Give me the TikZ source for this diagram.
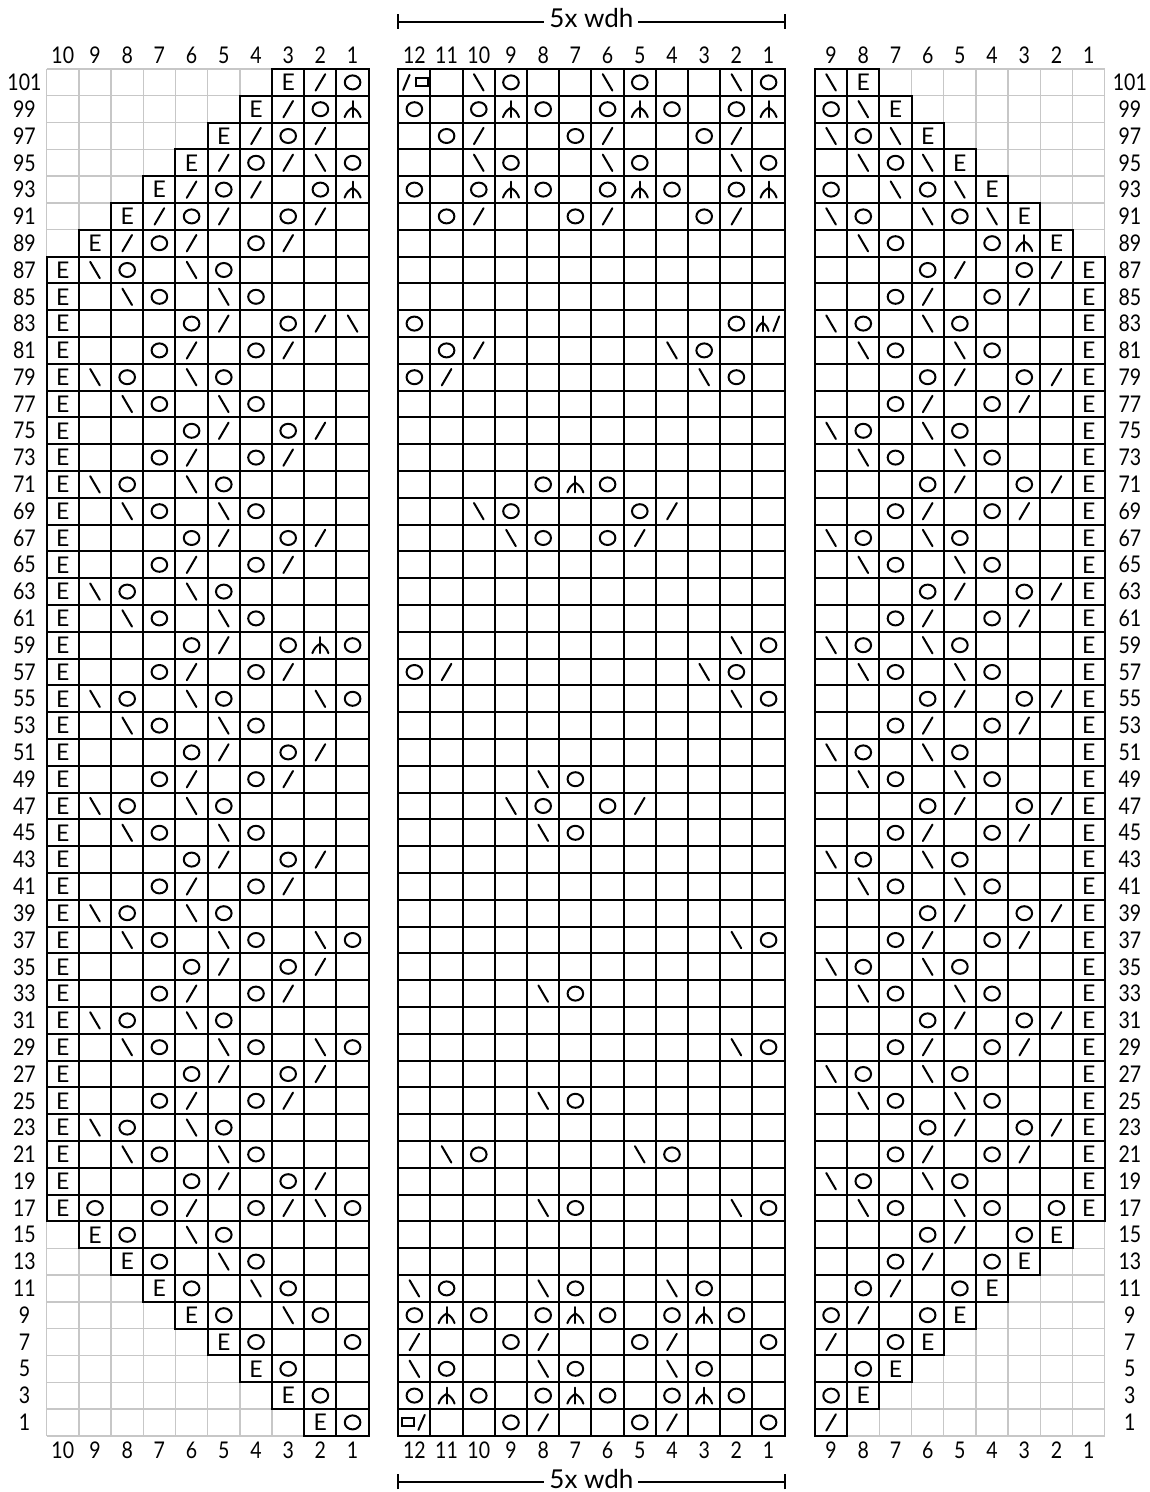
\documentclass[tikz,border=0pt]{standalone}
\usepackage{fontspec}
\setmainfont{Lato}
\newfontfamily\numfont[FakeStretch=0.85]{Lato}

\tikzset{
  gridgray/.style={draw=black!22, line width=0.7pt},
  gridblack/.style={draw=black, line width=1pt, line cap=rect},
  sym/.style={line width=1pt, line cap=round},
  stE/.style={font=\fontsize{11.5}{12}\selectfont, inner sep=0pt},
  numlab/.style={font=\numfont\fontsize{11.5}{12}\selectfont, inner sep=0pt},
  bracket/.style={line width=1pt},
  wdh/.style={font=\fontsize{13}{14}\selectfont, anchor=base, fill=white, inner xsep=2.5pt, inner ysep=1pt},
  % 针法符号
  yo/.pic={\draw[sym] (0,0) ellipse [x radius=3.9pt, y radius=3.5pt];},
  ktog/.pic={\draw[sym] (-2.4pt,-4.1pt) -- (2.4pt,4.1pt);},
  ssk/.pic={\draw[sym] (-2.4pt,4.1pt) -- (2.4pt,-4.1pt);},
  cdd/.pic={\draw[sym] (0,-4pt) -- (0,4pt);
    \draw[sym] (-4pt,-4pt) to[bend left=20] (0,0.8pt) to[bend left=20] (4pt,-4pt);},
  ktogsq/.pic={\draw[sym] (-5.6pt,-3.8pt) -- (-2.4pt,3.8pt);
    \draw[sym] (0.7pt,-2pt) rectangle (6.8pt,2pt);},
  sqktog/.pic={\draw[sym] (-6pt,-2pt) rectangle (0pt,2pt);
    \draw[sym] (2pt,-3.8pt) -- (5.2pt,3.8pt);},
  cddktog/.pic={\draw[sym] (-3pt,-3.8pt) -- (-3pt,3.6pt);
    \draw[sym] (-6pt,-3.8pt) to[bend left=20] (-3pt,0.5pt) to[bend left=20] (0pt,-3.8pt);
    \draw[sym] (2.4pt,-3.8pt) -- (5.3pt,3.6pt);},
}

\begin{document}
\begin{tikzpicture}[x=16.1pt, y=13.4pt]
  % 画布
  \useasboundingbox (-1.450,-2.097) rectangle (34.264,53.575);

  % 左片 灰格与黑框
  \foreach \i in {0,...,10} \draw[gridgray] (\i,0) -- (\i,51);
  \foreach \j in {0,...,51} \draw[gridgray] (0,\j) -- (10,\j);
  \foreach \r in {1,3,...,101} {
    \pgfmathtruncatemacro\w{min(10,(\r+3)/2,(107-\r)/2)}
    \foreach \c in {1,...,\w} \draw[gridblack] ({10-\c},{(\r-1)/2}) rectangle ++(1,1);
    \node[stE] (LE-\r) at ({10.5-\w},{\r/2}) {E};
  }

  % 中片 (5x wdh)
  \foreach \i in {0,...,12} \draw[gridblack] ({10.919+\i},0) -- ++(0,51);
  \foreach \j in {0,...,51} \draw[gridblack] (10.919,\j) -- ++(12,0);

  % 右片 灰格与黑框
  \foreach \i in {0,...,9} \draw[gridgray] ({23.86+\i},0) -- ++(0,51);
  \foreach \j in {0,...,51} \draw[gridgray] (23.86,\j) -- ++(9,0);
  \foreach \r in {1,3,...,101} {
    \pgfmathtruncatemacro\m{max(1,(19-\r)/2,(\r-85)/2)}
    \foreach \c in {\m,...,9} \draw[gridblack] ({32.86-\c},{(\r-1)/2}) rectangle ++(1,1);
  }
  \foreach \r in {3,5,...,101} {
    \pgfmathtruncatemacro\m{max(1,(19-\r)/2,(\r-85)/2)}
    \node[stE] (RE-\r) at ({33.36-\m},{\r/2}) {E};
  }

  % 左片 符号
  \foreach \s/\c/\r in {ktog/2/101, yo/1/101, ktog/3/99, yo/2/99, cdd/1/99,
      ktog/4/97, yo/3/97, ktog/2/97, ktog/5/95, yo/4/95, ktog/3/95, ssk/2/95, yo/1/95,
      ktog/6/93, yo/5/93, ktog/4/93, yo/2/93, cdd/1/93,
      ktog/7/91, yo/6/91, ktog/5/91, yo/3/91, ktog/2/91,
      ktog/8/89, yo/7/89, ktog/6/89, yo/4/89, ktog/3/89,
      ssk/1/83, cdd/2/59, yo/1/59, ssk/2/55, yo/1/55, ssk/2/37, yo/1/37, ssk/2/29, yo/1/29,
      yo/9/17, yo/7/17, ktog/6/17, yo/4/17, ktog/3/17, ssk/2/17, yo/1/17,
      yo/8/15, ssk/6/15, yo/5/15, yo/7/13, ssk/5/13, yo/4/13,
      yo/6/11, ssk/4/11, yo/3/11, yo/5/9, ssk/3/9, yo/2/9,
      yo/4/7, yo/1/7, yo/3/5, yo/2/3, yo/1/1}
    \pic at ({10.5-\c},{\r/2}) {\s};
  \foreach \r in {87,79,71,63,55,47,39,31,23}
    \foreach \s/\c in {ssk/9,yo/8,ssk/6,yo/5} \pic at ({10.5-\c},{\r/2}) {\s};
  \foreach \r in {85,77,69,61,53,45,37,29,21}
    \foreach \s/\c in {ssk/8,yo/7,ssk/5,yo/4} \pic at ({10.5-\c},{\r/2}) {\s};
  \foreach \r in {83,75,67,59,51,43,35,27,19}
    \foreach \s/\c in {yo/6,ktog/5,yo/3} \pic at ({10.5-\c},{\r/2}) {\s};
  \foreach \r in {83,75,67,51,43,35,27,19}
    \pic at ({10.5-2},{\r/2}) {ktog};
  \foreach \r in {81,73,65,57,49,41,33,25}
    \foreach \s/\c in {yo/7,ktog/6,yo/4,ktog/3} \pic at ({10.5-\c},{\r/2}) {\s};

  % 中片 符号
  \foreach \s/\c/\r in {ktogsq/12/101, ktog/12/7, sqktog/12/1,
      yo/12/83, yo/2/83, cddktog/1/83, yo/11/81, ktog/10/81, ssk/4/81, yo/3/81,
      yo/12/79, ktog/11/79, ssk/3/79, yo/2/79, yo/8/71, cdd/7/71, yo/6/71,
      ssk/10/69, yo/9/69, yo/5/69, ktog/4/69, ssk/9/67, yo/8/67, yo/6/67, ktog/5/67,
      yo/12/57, ktog/11/57, ssk/3/57, yo/2/57, ssk/9/47, yo/8/47, yo/6/47, ktog/5/47,
      ssk/11/21, yo/10/21, ssk/5/21, yo/4/21}
    \pic at ({23.419-\c},{\r/2}) {\s};
  \foreach \r in {101,95}
    \foreach \s/\c in {ssk/10,yo/9,ssk/6,yo/5,ssk/2,yo/1} \pic at ({23.419-\c},{\r/2}) {\s};
  \foreach \r in {99,93}
    \foreach \s/\c in {yo/12,yo/10,cdd/9,yo/8,yo/6,cdd/5,yo/4,yo/2,cdd/1} \pic at ({23.419-\c},{\r/2}) {\s};
  \foreach \r in {97,91}
    \foreach \s/\c in {yo/11,ktog/10,yo/7,ktog/6,yo/3,ktog/2} \pic at ({23.419-\c},{\r/2}) {\s};
  \foreach \r in {11,5}
    \foreach \s/\c in {ssk/12,yo/11,ssk/8,yo/7,ssk/4,yo/3} \pic at ({23.419-\c},{\r/2}) {\s};
  \foreach \r in {9,3}
    \foreach \s/\c in {yo/12,cdd/11,yo/10,yo/8,cdd/7,yo/6,yo/4,cdd/3,yo/2} \pic at ({23.419-\c},{\r/2}) {\s};
  \foreach \r in {7,1}
    \foreach \s/\c in {yo/9,ktog/8,yo/5,ktog/4,yo/1} \pic at ({23.419-\c},{\r/2}) {\s};
  \foreach \r in {59,55,37,29,17}
    \foreach \s/\c in {ssk/2,yo/1} \pic at ({23.419-\c},{\r/2}) {\s};
  \foreach \r in {49,45,33,25,17}
    \foreach \s/\c in {ssk/8,yo/7} \pic at ({23.419-\c},{\r/2}) {\s};

  % 右片 符号
  \foreach \s/\c/\r in {ssk/9/101, yo/9/99, ssk/8/99, ssk/9/97, yo/8/97, ssk/7/97,
      ssk/8/95, yo/7/95, ssk/6/95, yo/9/93, ssk/7/93, yo/6/93, ssk/5/93,
      ssk/9/91, yo/8/91, ssk/6/91, yo/5/91, ssk/4/91,
      ssk/8/89, yo/7/89, yo/4/89, cdd/3/89, yo/2/17,
      yo/6/15, ktog/5/15, yo/3/15, yo/7/13, ktog/6/13, yo/4/13,
      yo/8/11, ktog/7/11, yo/5/11, yo/9/9, ktog/8/9, yo/6/9,
      ktog/9/7, yo/7/7, yo/8/5, yo/9/3, ktog/9/1}
    \pic at ({33.36-\c},{\r/2}) {\s};
  \foreach \r in {87,79,71,63,55,47,39,31,23}
    \foreach \s/\c in {yo/6,ktog/5,yo/3,ktog/2} \pic at ({33.36-\c},{\r/2}) {\s};
  \foreach \r in {85,77,69,61,53,45,37,29,21}
    \foreach \s/\c in {yo/7,ktog/6,yo/4,ktog/3} \pic at ({33.36-\c},{\r/2}) {\s};
  \foreach \r in {83,75,67,59,51,43,35,27,19}
    \foreach \s/\c in {ssk/9,yo/8,ssk/6,yo/5} \pic at ({33.36-\c},{\r/2}) {\s};
  \foreach \r in {81,73,65,57,49,41,33,25,17}
    \foreach \s/\c in {ssk/8,yo/7,ssk/5,yo/4} \pic at ({33.36-\c},{\r/2}) {\s};

  % 行号
  \foreach \r in {1,3,...,101} {
    \node[numlab] (rowL-\r) at (-0.69,{\r/2}) {\r};
    \node[numlab] (rowR-\r) at (33.64,{\r/2}) {\r};
  }
  % 列号
  \foreach \c in {1,...,10} {
    \node[numlab] (colLt-\c) at ({10.5-\c},51.52) {\c};
    \node[numlab] (colLb-\c) at ({10.5-\c},-0.55) {\c};
  }
  \foreach \c in {1,...,12} {
    \node[numlab] (colMt-\c) at ({23.419-\c},51.52) {\c};
    \node[numlab] (colMb-\c) at ({23.419-\c},-0.55) {\c};
  }
  \foreach \c in {1,...,9} {
    \node[numlab] (colRt-\c) at ({33.36-\c},51.52) {\c};
    \node[numlab] (colRb-\c) at ({33.36-\c},-0.55) {\c};
  }

  % 重复范围标注
  \foreach \y/\b/\n in {52.77/52.53/top, -1.72/-1.96/bot} {
    \coordinate (\n-L) at (10.919,\y);
    \coordinate (\n-R) at (22.919,\y);
    \draw[bracket] (\n-L) -- (\n-R);
    \draw[bracket] ([yshift=-3.7pt]\n-L) -- ([yshift=3.7pt]\n-L);
    \draw[bracket] ([yshift=-3.7pt]\n-R) -- ([yshift=3.7pt]\n-R);
    \node[wdh] (\n-W) at (16.919,\b) {5x wdh};
  }
\end{tikzpicture}
\end{document}
